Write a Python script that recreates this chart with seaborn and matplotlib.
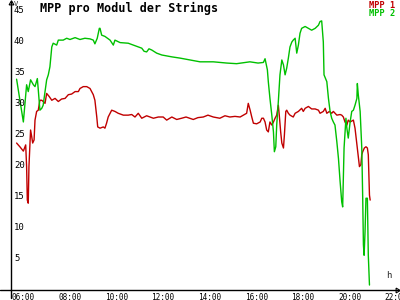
import matplotlib
matplotlib.use("Agg")
import matplotlib.pyplot as plt
import matplotlib.transforms as mtransforms
import seaborn as sns
import pandas as pd

# ---- data (hours of day, volts) ----
mpp2_time = [6.04, 6.33, 6.47, 6.54, 6.64, 6.76, 6.83, 6.93, 6.97, 7.04, 7.12, 7.18, 7.26, 7.33, 7.40,
             7.47, 7.55, 7.61, 7.76, 7.83, 8.04, 8.19, 8.33, 8.55, 8.76, 8.97, 9.19, 9.33, 9.40, 9.50,
             9.59, 9.62, 9.69, 9.83, 10.05, 10.19, 10.26, 10.48, 10.83, 11.12, 11.41, 11.51, 11.62,
             11.72, 11.84, 12.05, 12.27, 12.70, 13.05, 13.48, 13.91, 14.48, 15.06, 15.48, 16.05, 16.40,
             16.63, 16.70, 16.80, 16.84, 16.91, 16.99, 17.06, 17.10, 17.16, 17.20, 17.27, 17.34, 17.42,
             17.49, 17.56, 17.63, 17.70, 17.77, 17.85, 17.91, 17.99, 18.06, 18.13, 18.20, 18.27, 18.42,
             18.56, 18.70, 18.85, 18.99, 19.06, 19.13, 19.20, 19.23, 19.35, 19.42, 19.49, 19.56, 19.63,
             19.70, 19.78, 19.85, 19.92, 19.99, 20.03, 20.09, 20.17, 20.21, 20.27, 20.35, 20.42, 20.49,
             20.56, 20.64, 20.66, 20.70, 20.78, 20.85, 20.89, 20.92, 20.95, 20.99, 21.03, 21.09, 21.13,
             21.18]
mpp2_value = [34.0, 27.1, 33.1, 32.0, 33.9, 33.1, 32.8, 34.1, 32.3, 29.0, 29.3, 29.8, 32.0, 33.9, 34.7,
              36.0, 39.2, 39.8, 39.5, 40.3, 40.3, 40.6, 40.4, 40.7, 40.4, 40.6, 40.5, 40.3, 39.7, 40.6,
              42.2, 42.2, 41.1, 40.9, 40.3, 39.5, 40.3, 39.9, 39.8, 39.4, 39.0, 38.5, 38.4,
              38.9, 38.7, 38.2, 37.9, 37.6, 37.4, 37.1, 36.8, 36.8, 36.6, 36.5, 36.8, 36.6,
              36.7, 37.3, 35.5, 33.6, 30.9, 28.2, 25.5, 22.3, 23.1, 26.6, 30.4, 34.7, 37.1,
              36.3, 34.7, 35.8, 37.4, 39.2, 40.0, 40.3, 40.6, 38.2, 39.5, 41.4, 42.2, 42.5,
              42.2, 41.9, 42.2, 42.7, 43.3, 43.4, 40.0, 34.7, 33.6, 30.9, 28.8, 27.7, 27.1,
              26.6, 23.9, 21.2, 17.5, 14.2, 13.4, 22.9, 27.7, 26.1, 24.5, 27.1, 28.8, 29.0,
              29.8, 30.9, 33.3, 31.5, 28.8, 22.9, 14.8, 7.3, 5.6, 9.4, 14.8, 14.8, 5.6,
              0.8]

mpp1_time = [6.04, 6.18, 6.33, 6.43, 6.47, 6.50, 6.54, 6.57, 6.64, 6.69, 6.73, 6.79, 6.83, 6.90, 6.97,
             7.04, 7.12, 7.18, 7.26, 7.33, 7.44, 7.55, 7.69, 7.83, 7.97, 8.12, 8.26, 8.40, 8.55, 8.69,
             8.76, 8.90, 9.05, 9.19, 9.33, 9.40, 9.48, 9.52, 9.62, 9.76, 9.83, 9.90, 9.97, 10.12, 10.26,
             10.40, 10.62, 10.83, 10.98, 11.12, 11.26, 11.41, 11.62, 11.76, 11.91, 12.12, 12.33, 12.48,
             12.70, 12.91, 13.12, 13.31, 13.62, 13.82, 14.05, 14.25, 14.48, 14.76, 14.98, 15.19, 15.41,
             15.63, 15.91, 15.98, 16.06, 16.13, 16.20, 16.34, 16.49, 16.56, 16.63, 16.70, 16.77, 16.84,
             16.91, 16.99, 17.06, 17.13, 17.20, 17.27, 17.31, 17.37, 17.42, 17.49, 17.53, 17.59, 17.63,
             17.70, 17.77, 17.91, 17.99, 18.13, 18.27, 18.34, 18.42, 18.56, 18.70, 18.85, 18.99, 19.06,
             19.20, 19.28, 19.35, 19.46, 19.56, 19.63, 19.78, 19.92, 19.99, 20.06, 20.13, 20.21, 20.27,
             20.35, 20.49, 20.56, 20.61, 20.66, 20.75, 20.81, 20.85, 20.89, 20.96, 21.03, 21.09, 21.13,
             21.18, 21.21]
mpp1_value = [23.7, 23.1, 22.4, 23.4, 19.9, 14.5, 14.0, 19.9, 25.8, 24.7, 23.7, 24.2, 27.4, 28.8, 29.0,
              30.6, 30.6, 30.4, 30.1, 31.7, 31.2, 30.6, 30.9, 30.4, 30.8, 30.9, 31.5, 31.6, 32.0, 32.0,
              32.5, 32.8, 32.8, 32.5, 31.5, 30.6, 27.9, 26.3, 26.1, 26.3, 26.1, 26.9, 27.9, 29.0, 28.8,
              28.5, 28.2, 28.2, 28.3, 27.9, 28.5, 27.7, 28.1, 27.9, 27.7, 27.9, 27.9, 27.4,
              27.9, 27.5, 27.7, 27.9, 27.5, 27.8, 27.9, 28.2, 27.9, 27.7, 28.1, 27.9, 28.0,
              27.9, 28.5, 30.1, 29.0, 27.9, 26.9, 26.8, 27.1, 27.7, 27.7, 27.1, 25.8, 25.5,
              27.1, 26.6, 27.1, 27.7, 28.2, 29.8, 28.2, 25.5, 23.7, 22.9, 25.0, 28.8, 29.0,
              28.5, 28.2, 27.9, 28.5, 28.8, 29.3, 28.8, 29.3, 29.6, 29.2, 29.2, 29.0, 28.5,
              28.8, 29.3, 28.5, 28.8, 28.5, 28.8, 28.2, 28.3, 28.2, 27.9, 27.1, 26.6, 27.4,
              27.1, 27.4, 26.1, 24.5, 22.9, 19.9, 20.2, 21.8, 22.3, 22.9, 23.1, 22.9, 21.8,
              15.3, 14.5]

series_names = ["MPP 1", "MPP 2"]
x_ticks = [6, 8, 10, 12, 14, 16, 18, 20, 22]
x_tick_labels = ["06:00", "08:00", "10:00", "12:00", "14:00", "16:00", "18:00", "20:00", "22:00"]
y_ticks = [5, 10, 15, 20, 25, 30, 35, 40, 45]

df = pd.concat([
    pd.DataFrame({"t": mpp1_time, "v": mpp1_value, "s": series_names[0]}),
    pd.DataFrame({"t": mpp2_time, "v": mpp2_value, "s": series_names[1]}),
])

sns.set_style("white")
plt.rcParams["font.family"] = ["DejaVu Sans Mono", "DejaVu Sans"]

RED = "#c00000"
GREEN = "#00c000"

fig = plt.figure(figsize=(4, 3), dpi=100)
ax = fig.add_axes([11 / 400, 10 / 300, 389 / 400, 290 / 300])

sns.lineplot(data=df, x="t", y="v", hue="s", palette={series_names[0]: RED, series_names[1]: GREEN},
             estimator=None, sort=False, legend=False, linewidth=1.0, ax=ax)

ax.set_xlim(5.80, 22.49)
ax.set_ylim(0, 46.77)
ax.set_xlabel("")
ax.set_ylabel("")
for s in ["top", "right", "bottom", "left"]:
    ax.spines[s].set_visible(False)

# axes lines with arrows
ax.plot([-11 / 389, 0.995], [0, 0], color="black", lw=1, transform=ax.transAxes, clip_on=False)
ax.plot([0, 0], [-8 / 290, 0.995], color="black", lw=1, transform=ax.transAxes, clip_on=False)
ax.plot([0.992], [0], marker=(3, 0, -90), ms=4, mfc="none", mec="black", mew=0.8,
        transform=ax.transAxes, clip_on=False)
ax.plot([0], [0.99], marker=(3, 0, 0), ms=4, mfc="none", mec="black", mew=0.8,
        transform=ax.transAxes, clip_on=False)

ax.set_xticks(x_ticks)
ax.set_xticklabels(x_tick_labels)
ax.tick_params(axis="x", direction="inout", length=6, width=1, pad=0.5, labelsize=5.6, colors="black")
shift = mtransforms.ScaledTranslation(-4 / 100, 1.5 / 100, fig.dpi_scale_trans)
for lab in ax.get_xticklabels():
    lab.set_horizontalalignment("left")
    lab.set_transform(lab.get_transform() + shift)

ax.set_yticks(y_ticks)
ax.tick_params(axis="y", direction="inout", length=6, width=1, labelleft=False)
ytr = ax.get_yaxis_transform() + mtransforms.ScaledTranslation(3 / 100, 0, fig.dpi_scale_trans)
for v in y_ticks:
    ax.text(0, v, str(v), transform=ytr, ha="left", va="center", fontsize=6.5, color="black")

fig.text(14 / 400, 1 - 0.5 / 300, "V", ha="left", va="top", fontsize=5)
ax.text((386 - 11) / 389, 10 / 290, "h", transform=ax.transAxes, ha="left", va="bottom", fontsize=6.5)

fig.text(40 / 400, 1 - 2 / 300, "MPP pro Modul der Strings", ha="left", va="top",
         fontsize=8.5, fontweight="bold", color="black")
fig.text(395 / 400, 1 - 1 / 300, series_names[0], ha="right", va="top", fontsize=6.2,
         fontweight="bold", color=RED)
fig.text(395 / 400, 1 - 9 / 300, series_names[1], ha="right", va="top", fontsize=6.2,
         fontweight="bold", color=GREEN)

fig.savefig("out.png", dpi=100)
